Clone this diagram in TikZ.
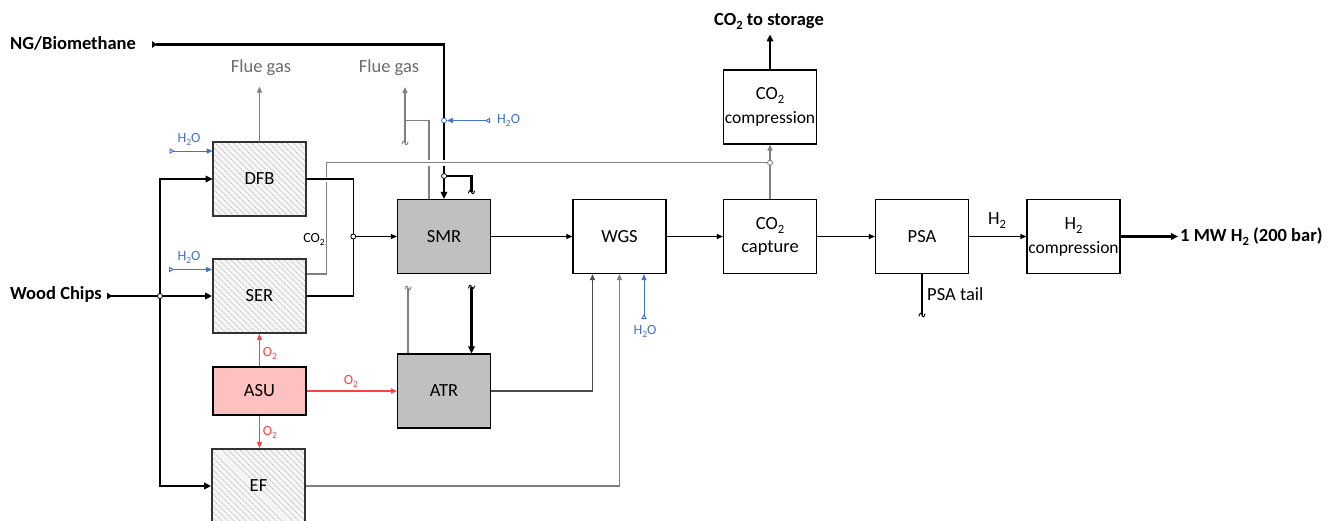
\documentclass[tikz,border=0pt]{standalone}
\usepackage{fontspec}
\setmainfont{Carlito}
\usetikzlibrary{arrows.meta,patterns.meta,calc}
\definecolor{myblue}{HTML}{4472C4}
\definecolor{myred}{HTML}{FF4040}
\definecolor{mygrey}{HTML}{808080}
\definecolor{txtgrey}{HTML}{6B6B6B}
\definecolor{asufill}{HTML}{FFC0C0}
\definecolor{reactfill}{HTML}{C0C0C0}
\newcommand{\ssub}[1]{\raisebox{-0.45ex}{\scalebox{0.68}{#1}}}
\tikzset{
  brk/.pic={\draw[line width=1pt,line cap=round] (-3,1) .. controls (-2,-2.5) and (-1,-2.5) .. (0,0) .. controls (1,2.5) and (2,2.5) .. (3,-1);}
}
\begin{document}
\begin{tikzpicture}[x=1pt,y=-1pt,
  every node/.style={font=\fontsize{18.5}{22}\selectfont, inner sep=0pt},
  small/.style={font=\fontsize{14}{16}\selectfont},
  bold/.style={font=\bfseries\fontsize{18.5}{22}\selectfont},
  box/.style={draw=black, line width=1.2pt, minimum width=93pt, minimum height=74pt, fill=white, align=center},
  hbox/.style={draw=black!80, line width=1.8pt, minimum width=93pt, minimum height=74pt, align=center,
     preaction={fill=gray!7}, pattern={Lines[angle=-45,distance=4pt,line width=0.7pt]}, pattern color=gray!45},
  jn/.style={circle, draw, fill=white, inner sep=0pt, minimum size=5pt, line width=0.8pt},
  ktip/.style={-{Triangle[length=6pt,width=5pt]}},
  k/.style={black, line width=1.2pt},
  karr/.style={k, ktip},
  tk/.style={black, line width=2.4pt},
  tkarr/.style={tk, -{Triangle[length=7pt,width=6.5pt]}},
  g/.style={mygrey, line width=1.4pt},
  garr/.style={g, ktip},
  blu/.style={myblue, line width=1pt, {Triangle[open,length=5pt,width=5.5pt,reversed,line width=0.9pt]}-{Triangle[length=6pt,width=5pt]}},
  rarr/.style={myred, line width=1.1pt, ktip}
]
\useasboundingbox (0,0) rectangle (1328,520);

% ---------- boxes ----------
\node[hbox] (DFB) at (259.5,179) {DFB};
\node[hbox] (SER) at (259.5,296) {SER};
\node[box, fill=asufill, minimum height=48pt] (ASU) at (259.5,391) {ASU};
\node[hbox] (EF) at (258.5,486) {EF};
\node[box, fill=reactfill] (SMR) at (444,236.5) {SMR};
\node[box, fill=reactfill] (ATR) at (444,391) {ATR};
\node[box] (WGS) at (619.5,236.5) {WGS};
\node[box] (CAP) at (770,236.5) {CO\ssub{2}\\[1pt]capture};
\node[box] (CCOMP) at (770,107) {CO\ssub{2}\\[2pt]{\fontsize{17.5}{20}\selectfont compression}};
\node[box] (PSA) at (922,236.5) {PSA};
\node[box] (HCOMP) at (1073.5,236.5) {H\ssub{2}\\[2pt]{\fontsize{17.5}{20}\selectfont compression}};

% ---------- labels ----------
\node[bold, anchor=west] (ngl) at (10,43) {NG/Biomethane};
\node[bold, anchor=west] (wcl) at (10,294) {Wood Chips};
\node[bold] (co2st) at (769,21) {CO\ssub{2} to storage};
\node[bold, anchor=west] (mwl) at (1180,236.5) {1 MW H\ssub{2} (200 bar)};
\node[text=txtgrey] (fg1) at (261,68) {Flue gas};
\node[text=txtgrey] (fg2) at (389,68) {Flue gas};
\node (h2l) at (997,221) {H\ssub{2}};
\node[anchor=west] (ptl) at (927,294) {PSA tail};
\node[small] (co2l) at (314,239) {CO\ssub{2}};
\node[small, text=myblue] (w1) at (189,139) {H\ssub{2}O};
\node[small, text=myblue] (w2) at (189,257) {H\ssub{2}O};
\node[small, text=myblue, anchor=west] (w3) at (497,120.5) {H\ssub{2}O};
\node[small, text=myblue] (w4) at (645,331) {H\ssub{2}O};
\node[small, text=myred] (o1) at (270,353) {O\ssub{2}};
\node[small, text=myred] (o2) at (270,432) {O\ssub{2}};
\node[small, text=myred] (o3) at (351,381) {O\ssub{2}};

% ---------- coordinates ----------
\coordinate (ngS) at (152,44.5);
\coordinate (jA) at (444,120.5);
\coordinate (jB) at (444,176);
\coordinate (h2oS) at (490,120.5);
\coordinate (brkA) at (471.5,192);
\coordinate (brkB) at (471.5,287);
\coordinate (fgJ) at (405,120.7);
\coordinate (fgB) at (405,143);
\coordinate (fgT) at (405,87);
\coordinate (brkD) at (408,288);
\coordinate (wcS) at (107,296);
\coordinate (jW) at (160,296);
\coordinate (jM) at (353.3,236.5);
\coordinate (co2c) at (326.7,162.7);
\coordinate (jC) at (770,162.7);
\coordinate (ptE) at (922,315);

% ---------- NG/Biomethane + steam ----------
\draw[tk, {Triangle[length=5pt,width=6.5pt,reversed]}-{Triangle[length=7pt,width=6.5pt]}] (ngS) -| (SMR.north);
\draw[tk] (jB) -| (brkA);
\pic[black] at (brkA) {brk};
\draw[tkarr] (brkB) -- (brkB |- ATR.north);
\pic[black] at (brkB) {brk};

% ---------- flue gas from SMR / ATR ----------
\draw[g] ([xshift=-15pt]SMR.north) |- (fgJ);
\draw[garr] (fgB) -- (fgT);
\pic[mygrey] at (fgB) {brk};
\draw[g] ([xshift=-36pt]ATR.north) -- (brkD);
\pic[mygrey] at (brkD) {brk};

% crossing gap
\draw[white, line width=6pt] (420,162.7) -- (452,162.7);
% ---------- CO2 from SER ----------
\draw[g] ([yshift=22pt]SER.east) -| (co2c) -- (jC);
\draw[garr] (CAP.north) -- (CCOMP.south);
\draw[tkarr] (CCOMP.north) -- ++(0,-35);

% crossing gap
\draw[white, line width=5pt] (321,179) -- (332,179);
% ---------- syngas from DFB / SER ----------
\draw[k] (DFB.east) -| (jM) |- (SER.east);
\draw[karr] (jM) -- (SMR.west);

% ---------- main line ----------
\draw[karr] (SMR.east) -- (WGS.west);
\draw[karr] (WGS.east) -- (CAP.west);
\draw[karr] (CAP.east) -- (PSA.west);
\draw[karr] (PSA.east) -- (HCOMP.west);
\draw[tkarr, shorten >=2pt] (HCOMP.east) -- (mwl.west);
\draw[k] (PSA.south) -- (ptE);
\pic[black] at (ptE) {brk};

% ---------- to WGS ----------
\draw[black!70, line width=1.3pt, ktip] (ATR.east) -| ([xshift=-27pt]WGS.south);
\draw[mygrey, line width=1.3pt, ktip] (EF.east) -| (WGS.south);
\draw[blu] ([xshift=24.5pt,yshift=-45pt]WGS.south) -- ([xshift=24.5pt]WGS.south);

% ---------- wood chips ----------
\draw[tk, {Triangle[length=5pt,width=6.5pt,reversed]}-{Triangle[length=7pt,width=6.5pt]}] (wcS) -- (SER.west);
\draw[tk, {Triangle[length=7pt,width=6.5pt]}-{Triangle[length=7pt,width=6.5pt]}] (DFB.west) -| (jW) |- (EF.west);

% ---------- water ----------
\draw[blu] ([xshift=-43pt,yshift=28pt]DFB.west) -- ([yshift=28pt]DFB.west);
\draw[blu] ([xshift=-43pt,yshift=26.5pt]SER.west) -- ([yshift=26.5pt]SER.west);

% ---------- oxygen ----------
\draw[rarr] (ASU.north) -- (SER.south);
\draw[rarr] (ASU.south) -- (ASU.south |- EF.north);
\draw[rarr] (ASU.east) -- (ATR.west);

% ---------- flue gas DFB ----------
\draw[garr] (DFB.north) -- ++(0,-55);

% ---------- junctions ----------
\node[jn, draw=myblue] (jAn) at (jA) {};
\draw[blu] (h2oS) -- (jAn);
\node[jn] (jBn) at (jB) {};
\node[jn] (jWn) at (jW) {};
\node[jn] (jMn) at (jM) {};
\node[jn, draw=mygrey] (jCn) at (jC) {};
\end{tikzpicture}
\end{document}
